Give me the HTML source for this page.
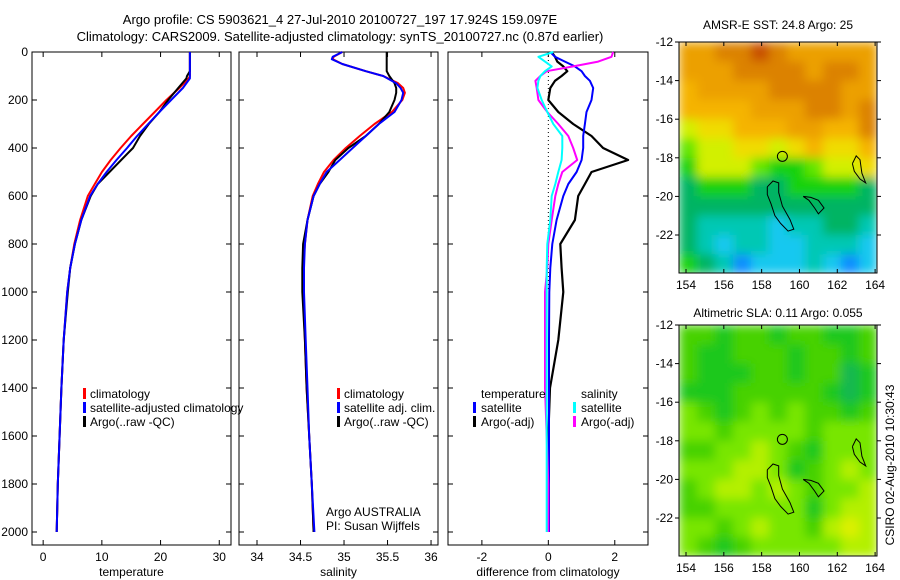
<!DOCTYPE html>
<html><head><meta charset="utf-8">
<style>
html,body{margin:0;padding:0;background:#fff;}
svg{display:block;font-family:"Liberation Sans",sans-serif;}
text{font-size:12px;fill:#000;}
</style></head>
<body>
<svg id="fig" width="900" height="580" viewBox="0 0 900 580" xmlns="http://www.w3.org/2000/svg">
<defs>
<filter id="blur" x="0" y="0" width="100%" height="100%"><feGaussianBlur stdDeviation="5" edgeMode="duplicate"/></filter>
<clipPath id="clipTop"><rect x="679" y="42" width="198" height="231"/></clipPath>
<clipPath id="clipBot"><rect x="679" y="325" width="198" height="231"/></clipPath>
</defs>
<text x="340" y="24" text-anchor="middle" style="font-size:13px">Argo profile: CS 5903621_4 27-Jul-2010 20100727_197 17.924S 159.097E</text>
<text x="340" y="41" text-anchor="middle" style="font-size:13px">Climatology: CARS2009. Satellite-adjusted climatology: synTS_20100727.nc (0.87d earlier)</text>
<text x="778" y="29" text-anchor="middle">AMSR-E SST: 24.8 Argo: 25</text>
<text x="778" y="317" text-anchor="middle">Altimetric SLA: 0.11 Argo: 0.055</text>
<text transform="translate(894,465) rotate(-90)" text-anchor="middle">CSIRO 02-Aug-2010 10:30:43</text>
<g id="layer"></g>
</svg>
<script>
// ---- temperature profile data ----
const tDepth = [0,20,50,80,100,110,150,200,250,300,350,400,450,500,550,600,700,800,900,1000,1200,1400,1600,1800,2000];
const tClim  = [25,25,25,25,25,24.8,23.2,21.0,19.0,17.0,15.0,13.2,11.5,10.0,8.8,7.6,6.3,5.3,4.6,4.1,3.5,3.1,2.8,2.5,2.3];
const tSat   = [25,25,25,25,25,25,23.8,21.8,19.8,17.9,16.0,14.3,12.5,10.8,9.3,8.0,6.5,5.4,4.6,4.1,3.5,3.1,2.8,2.5,2.3];
const tArgo  = [25,25,25,25,24.5,24.4,23,21.3,19.8,18.0,16.5,15.3,13.3,11.3,9.3,8.1,6.5,5.4,4.6,4.2,3.5,3.1,2.8,2.5,2.3];
// ---- salinity profile data ----
const sDepth = [0,20,30,50,80,100,130,150,170,200,250,300,350,400,450,500,550,600,700,800,900,1000,1200,1400,1600,1800,2000];
const sClim  = [34.98,34.88,34.87,34.98,35.25,35.45,35.62,35.68,35.7,35.67,35.55,35.35,35.18,35.02,34.88,34.77,34.7,34.64,34.58,34.55,34.53,34.53,34.55,34.57,34.6,34.63,34.65];
const sSat   = [34.98,34.87,34.86,34.98,35.25,35.45,35.6,35.65,35.68,35.66,35.58,35.4,35.25,35.1,34.95,34.8,34.72,34.65,34.58,34.55,34.54,34.54,34.56,34.58,34.6,34.63,34.66];
const sArgo  = [35.49,35.49,35.49,35.49,35.49,35.52,35.58,35.6,35.6,35.58,35.52,35.4,35.25,35.05,34.9,34.82,34.72,34.65,34.58,34.53,34.52,34.52,34.55,34.57,34.6,34.63,34.65];
// ---- difference panel data ----
const dDepth   = [0,20,40,60,80,100,120,150,200,250,300,350,400,450,500,550,600,700,800,900,1000,1200,1400,1600,1800,2000];
const dTempSat = [0.06,0.2,0.5,0.8,1.0,1.1,1.25,1.35,1.3,1.15,1.1,1.05,1.05,1.0,0.85,0.6,0.45,0.25,0.12,0.06,0.03,0.02,0.02,0.02,0.02,0.02];
const dTempArgo= [0.1,0.2,0.27,0.45,0.57,0.4,0.2,0.06,0.0,0.3,0.75,1.3,1.65,2.4,1.3,1.1,0.9,0.8,0.36,0.4,0.45,0.3,0.05,0.0,0.0,0.0];
const dSalSat  = [0.15,-0.3,-0.1,0.1,-0.1,-0.24,-0.3,-0.33,-0.2,-0.03,0.15,0.42,0.42,0.4,0.3,0.21,0.1,0.06,-0.03,-0.05,-0.05,-0.05,-0.05,-0.05,-0.05,-0.05];
const dSalArgo = [1.95,1.9,1.5,0.75,-0.05,-0.24,-0.39,-0.35,-0.3,-0.03,0.3,0.6,0.75,0.87,0.42,0.3,0.21,0.1,0.0,-0.03,-0.1,-0.1,-0.1,-0.05,0.0,0.0];
// ---- axis ticks ----
const depthTicks = [0,200,400,600,800,1000,1200,1400,1600,1800,2000];
const tempTicks = [0,10,20,30];
const salTicks = [34,34.5,35,35.5,36];
const diffTicks = [-2,0,2];
const lonTicks = [154,156,158,160,162,164];
const latTicks = [-12,-14,-16,-18,-20,-22];
// ---- map grids (rows from -12 southward, 1 deg; cols from 153.6 eastward, ~0.95 deg) ----
const sstGrid = [
[9,9,10,10,11,10,9,9,9,9,9],
[9,9,9,10,10,10,10,9,10,10,9],
[8,9,9,9,9,10,10,10,10,9,9],
[8,8,8,8,9,9,9,10,10,9,10],
[6,7,7,8,8,8,9,9,8,8,10],
[5,6,6,7,7,6,7,8,7,7,8],
[4,6,6,6,5,4,4,5,6,6,7],
[3,4,4,4,3,3,4,4,4,4,3],
[3,3,3,3,3,3,3,3,3,3,3],
[3,2,2,2,2,1,2,2,3,3,2],
[3,2,1,2,2,1,1,2,2,2,1],
[4,3,2,0,1,1,1,2,1,0,1]];
const slaGrid = [
[2,2,1,2,2,1,2,2,1,1,2],
[2,1,1,2,2,2,1,2,2,1,2],
[2,1,1,1,2,2,1,2,2,0,1],
[1,1,1,2,2,2,2,2,1,0,1],
[3,2,1,2,3,2,3,2,2,1,2],
[3,3,2,3,3,3,3,2,3,3,3],
[2,2,3,3,4,3,2,1,3,3,3],
[3,3,3,4,4,3,1,2,3,4,3],
[2,3,4,4,3,4,3,2,3,3,4],
[2,2,3,3,3,3,3,1,3,4,4],
[3,3,2,3,4,3,3,2,4,5,4],
[3,2,1,2,3,3,3,3,3,4,4]];
const sstPal = ['#0a8cff','#19c8f0','#00c8b4','#00b464','#14d20a','#64e600','#d2f000','#f0dc00','#f5b400','#eca000','#dc8200','#c85000'];
const slaPal = ['#14b850','#1ec81e','#46d200','#78e600','#b4f000','#dcf000','#f0d23c'];
// ---- coastlines (lon,lat) ----
const isl1 = [[158.3,-19.5],[158.6,-19.2],[158.9,-19.3],[158.9,-19.8],[159.1,-20.5],[159.5,-21.2],[159.7,-21.7],[159.4,-21.8],[159.0,-21.4],[158.7,-21.0],[158.5,-20.4],[158.3,-19.9],[158.3,-19.5]];
const isl2 = [[160.2,-20.0],[160.6,-20.05],[161.0,-20.2],[161.3,-20.6],[161.0,-20.9],[160.8,-20.6],[160.5,-20.2],[160.2,-20.0]];
const isl3 = [[162.8,-18.3],[163.0,-17.9],[163.2,-18.1],[163.3,-18.8],[163.5,-19.3],[163.2,-19.1],[162.9,-18.7],[162.8,-18.3]];
const argoLon = 159.097, argoLat = -17.924;

const NS='http://www.w3.org/2000/svg';
const L=document.getElementById('layer');
function mk(tag,attrs,parent){const e=document.createElementNS(NS,tag);for(const k in attrs)e.setAttribute(k,attrs[k]);(parent||L).appendChild(e);return e;}
function txt(x,y,s,anchor,parent){const e=mk('text',{x:x,y:y,'text-anchor':anchor||'start'},parent);e.textContent=s;return e;}

const Y0=52, Y1=545;
function yD(d){return Y0+d*0.24;}

function panel(name,x0,x1,vmin,vmax,xticks,xlabel,showY){
  const g=mk('g',{});
  
  
  const xf=v=>x0+(v-vmin)/(vmax-vmin)*(x1-x0);
  const frame=mk('rect',{x:x0,y:Y0,width:x1-x0,height:Y1-Y0,fill:'none',stroke:'#000','stroke-width':1},g);
  
  
  xticks.forEach(t=>{const x=xf(t);
    mk('line',{x1:x,x2:x,y1:Y1,y2:Y1-5,stroke:'#000'},g);
    mk('line',{x1:x,x2:x,y1:Y0,y2:Y0+5,stroke:'#000'},g);
    const lb=txt(x,561,String(t),'middle',g);
    
    
  });
  depthTicks.forEach(d=>{const y=yD(d);
    mk('line',{x1:x0,x2:x0+5,y1:y,y2:y,stroke:'#000'},g);
    mk('line',{x1:x1,x2:x1-5,y1:y,y2:y,stroke:'#000'},g);
    if(showY){const lb=txt(x0-4,y+4,String(d),'end',g);
      
      }
  });
  const xl=txt((x0+x1)/2,576,xlabel,'middle',g);
  
  
  return {g,xf};
}
function series(p,depths,vals,color,name,w){
  const pts=depths.map((d,i)=>p.xf(vals[i]).toFixed(1)+','+yD(d).toFixed(1)).join(' ');
  const e=mk('polyline',{points:pts,fill:'none',stroke:color,'stroke-width':w||2,'stroke-linejoin':'round'},p.g);
  
  
}
function legendEntry(g,bx,tx,y,color,label,name){
  const b=mk('rect',{x:bx,y:y-10,width:3,height:11,fill:color},g);
  
  
  const t=txt(tx,y,label,'start',g);
  
  
}

// temperature panel
const pT=panel('temperature-panel',32,231,-1.9,32,tempTicks,'temperature',true);
series(pT,tDepth,tClim,'#ff0000','temp-climatology-line');
series(pT,tDepth,tArgo,'#000000','temp-argo-line');
series(pT,tDepth,tSat,'#0000ff','temp-satellite-line');
legendEntry(pT.g,83,90,398,'#ff0000','climatology','legend-entry-climatology');
legendEntry(pT.g,83,90,412,'#0000ff','satellite-adjusted climatology','legend-entry-satellite');
legendEntry(pT.g,83,90,426,'#000000','Argo(..raw -QC)','legend-entry-argo');

// salinity panel
const pS=panel('salinity-panel',239,438,33.793,36.08,salTicks,'salinity',false);
series(pS,sDepth,sClim,'#ff0000','sal-climatology-line');
series(pS,sDepth,sArgo,'#000000','sal-argo-line');
series(pS,sDepth,sSat,'#0000ff','sal-satellite-line');
legendEntry(pS.g,337,344,398,'#ff0000','climatology','legend-entry-sal-climatology');
legendEntry(pS.g,337,344,412,'#0000ff','satellite adj. clim.','legend-entry-sal-satellite');
legendEntry(pS.g,337,344,426,'#000000','Argo(..raw -QC)','legend-entry-sal-argo');
const a1=txt(326,516,'Argo AUSTRALIA','start',pS.g);


const a2=txt(326,530,'PI: Susan Wijffels','start',pS.g);



// difference panel
const pD=panel('difference-panel',448,648,-3.02,3.0,diffTicks,'difference from climatology',false);
const zl=mk('line',{x1:pD.xf(0),x2:pD.xf(0),y1:Y0,y2:yD(1000),stroke:'#000','stroke-dasharray':'1,3'},pD.g);


series(pD,dDepth,dTempArgo,'#000000','diff-temp-argo-line',2.2);
series(pD,dDepth,dTempSat,'#0000ff','diff-temp-satellite-line');
series(pD,dDepth,dSalArgo,'#ff00ff','diff-sal-argo-line');
series(pD,dDepth,dSalSat,'#00ffff','diff-sal-satellite-line');
const h1=txt(481,398,'temperature','start',pD.g);


const h2=txt(581,398,'salinity','start',pD.g);


legendEntry(pD.g,473,481,412,'#0000ff','satellite','legend-entry-temp-satellite');
legendEntry(pD.g,473,481,426,'#000000','Argo(-adj)','legend-entry-temp-argo');
legendEntry(pD.g,573,581,412,'#00ffff','satellite','legend-entry-sal-satellite');
legendEntry(pD.g,573,581,426,'#ff00ff','Argo(-adj)','legend-entry-sal-argo');

// maps
function map(name,top,grid,pal,clip){
  const x0=679,x1=877,lon0=153.63,lon1=164.1,latTop=-12,h=231;
  const pxLat=19.3;
  const xf=lon=>x0+(lon-lon0)/(lon1-lon0)*(x1-x0);
  const yf=lat=>top+(latTop-lat)*pxLat;
  const g=mk('g',{});
  
  
  const cg=mk('g',{'clip-path':'url(#'+clip+')'},g);
  const bg=mk('g',{filter:'url(#blur)'},cg);
  const cw=(lon1-lon0)/grid[0].length;
  grid.forEach((row,r)=>row.forEach((v,c)=>{
    const xa=xf(lon0+c*cw), xb=xf(lon0+(c+1)*cw);
    const ya=yf(latTop-r), yb=yf(latTop-r-1);
    const cell=mk('rect',{x:xa.toFixed(1),y:ya.toFixed(1),width:(xb-xa+0.5).toFixed(1),height:(yb-ya+0.5).toFixed(1),fill:pal[v]},bg);
    
    
  }));
  [isl1,isl2,isl3].forEach(isl=>{
    const e=mk('polyline',{points:isl.map(p=>xf(p[0]).toFixed(1)+','+yf(p[1]).toFixed(1)).join(' '),fill:'none',stroke:'#000','stroke-width':1},g);
    
    
  });
  const c=mk('circle',{cx:xf(argoLon),cy:yf(argoLat),r:5,fill:'none',stroke:'#000','stroke-width':1},g);
  
  
  const f=mk('rect',{x:x0,y:top,width:x1-x0,height:h,fill:'none',stroke:'#000'},g);
  
  
  lonTicks.forEach(t=>{const x=xf(t);
    mk('line',{x1:x,x2:x,y1:top+h,y2:top+h-4,stroke:'#000'},g);
    mk('line',{x1:x,x2:x,y1:top,y2:top+4,stroke:'#000'},g);
    const lb=txt(x,top+h+16,String(t),'middle',g);
    
    
  });
  latTicks.forEach(t=>{const y=yf(t);
    mk('line',{x1:x0,x2:x0-4,y1:y,y2:y,stroke:'#000'},g);
    mk('line',{x1:x1,x2:x1+4,y1:y,y2:y,stroke:'#000'},g);
    const lb=txt(x0-6,y+4,String(t),'end',g);
    
    
  });
}
map('sst-map',42,sstGrid,sstPal,'clipTop');
map('sla-map',325,slaGrid,slaPal,'clipBot');
</script>
</body></html>
